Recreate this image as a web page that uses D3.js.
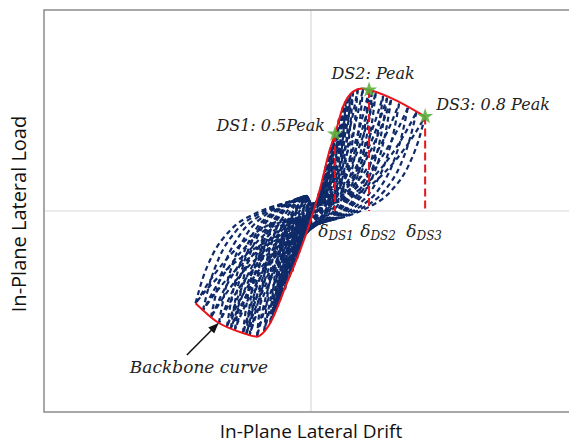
<!DOCTYPE html>
<html>
<head>
<meta charset="utf-8">
<script src="https://cdn.jsdelivr.net/npm/d3@7"></script>
<style>
  body { margin: 0; background: #fff; }
  .serif { font-family: "DejaVu Serif", serif; font-style: italic; fill: #222; }
  .axis-title { font-family: "Open Sans", sans-serif; fill: #111; }
</style>
</head>
<body>
<svg id="chart"></svg>
<script>
// backbone (envelope) curve, drift in mm, load in kN
const backboneDrift = [-17.3, -14.1, -10.2, -8.1, -7.2, -6.1, -3.6, -1.6, 0.3, 1.3, 2.8, 3.6, 4.8, 6.3, 7.6, 8.7, 17.1];
const backboneLoad  = [-45.9, -55.1, -60.7, -62.5, -60.7, -55.7, -35.8, -19.4, -1.0, 10.4, 30.3, 38.3, 51.9, 59.4, 61.0, 60.2, 47.0];

// damage states
const dsLabels = ["DS1: 0.5Peak", "DS2: Peak", "DS3: 0.8 Peak"];
const dsSub = ["DS1", "DS2", "DS3"];
const dsDrift = [3.6, 8.7, 17.1];
const dsLoad = [38.3, 60.2, 47.0];

// peaks of each load cycle
const posPeakDrift = [0.5, 0.8, 1.2, 1.5, 1.9, 2.2, 2.6, 2.9, 3.3, 3.6, 4.2, 4.8, 5.2, 5.5, 5.9, 6.3, 7.0, 7.8, 8.7, 9.2, 9.7, 10.8, 11.4, 12.0, 13.2, 14.5, 15.8, 17.1];
const posPeakLoad  = [3.0, 5.0, 9.0, 12.0, 17.5, 22.0, 27.0, 31.0, 35.0, 38.3, 46.0, 51.9, 54.5, 56.0, 58.0, 59.4, 60.5, 61.0, 60.2, 59.5, 58.8, 57.2, 56.3, 55.3, 53.4, 51.3, 49.2, 47.0];
const negPeakDrift = [-0.4, -0.6, -0.9, -1.2, -1.5, -1.8, -2.1, -2.5, -2.8, -3.2, -3.9, -4.6, -5.0, -5.3, -5.7, -6.1, -7.0, -8.1, -9.2, -9.7, -10.2, -11.4, -12.0, -12.6, -13.8, -15.0, -16.2, -17.3];
const negPeakLoad  = [-2.0, -3.0, -7.0, -13.0, -17.0, -21.0, -24.0, -27.0, -30.0, -32.5, -39.0, -44.0, -47.0, -49.3, -52.5, -55.7, -59.8, -62.5, -62.0, -61.4, -60.7, -59.0, -58.3, -57.5, -55.8, -53.0, -49.5, -45.9];

// branch shapes as fractions of the cycle peak (drift, load)
const unloadShape = [[1, 1], [0.94, 0.74], [0.85, 0.47], [0.70, 0.21], [0.47, 0.02], [0.24, -0.08], [0.08, -0.12]];
const reloadShape = [[0, 0.06], [0.3, 0.12], [0.55, 0.3], [0.75, 0.55], [0.9, 0.8], [1, 1]];

// annotation for the backbone label (arrow tail, data units)
const arrowTail = [-18.6, -71.6];
const arrowHeadAt = 1; // index into backbone

const width = 569, height = 445;
const svg = d3.select("#chart").attr("width", width).attr("height", height);

const x = d3.scaleLinear().domain([-40, 40]).range([44, 578]);
const y = d3.scaleLinear().domain([-100, 100]).range([412, 10]);

// frame and zero lines
svg.append("line").attr("x1", x(0)).attr("x2", x(0)).attr("y1", y(100)).attr("y2", y(-100))
  .attr("stroke", "#d9d9d9").attr("stroke-width", 1.2);
svg.append("line").attr("x1", x(-40)).attr("x2", x(40)).attr("y1", y(0)).attr("y2", y(0))
  .attr("stroke", "#d9d9d9").attr("stroke-width", 1.2);
svg.append("rect").attr("x", x(-40)).attr("y", y(100))
  .attr("width", x(40) - x(-40)).attr("height", y(-100) - y(100))
  .attr("fill", "none").attr("stroke", "#8c8c8c").attr("stroke-width", 1.5);

// hysteresis loops
const line = d3.line().x(d => x(d[0])).y(d => y(d[1])).curve(d3.curveMonotoneX);
const scaleShape = (shape, px, py) => shape.map(s => [s[0] * px, s[1] * py]);

const branches = [];
posPeakDrift.forEach((xp, i) => {
  const yp = posPeakLoad[i], xn = negPeakDrift[i], yn = negPeakLoad[i];
  // negative peak -> pinch -> positive peak
  branches.push(scaleShape(unloadShape, xn, yn).concat(scaleShape(reloadShape, xp, yp)));
  // positive peak -> pinch -> negative peak
  branches.push(scaleShape(unloadShape, xp, yp).concat(scaleShape(reloadShape, xn, yn).reverse()));
});
svg.append("g").selectAll("path").data(branches).join("path")
  .attr("d", line)
  .attr("fill", "none")
  .attr("stroke", "#0f2a68")
  .attr("stroke-width", 2.2)
  .attr("stroke-dasharray", "5,3.5");

// backbone
const backbone = backboneDrift.map((d, i) => [d, backboneLoad[i]]);
svg.append("path").datum(backbone)
  .attr("d", line)
  .attr("fill", "none")
  .attr("stroke", "#e8151c")
  .attr("stroke-width", 2);

// damage state drops
svg.append("g").selectAll("line").data(dsDrift).join("line")
  .attr("x1", d => x(d)).attr("x2", d => x(d))
  .attr("y1", (d, i) => y(dsLoad[i])).attr("y2", y(0))
  .attr("stroke", "#e8151c").attr("stroke-width", 2)
  .attr("stroke-dasharray", "8,4");

// stars
svg.append("g").selectAll("path").data(dsDrift).join("path")
  .attr("d", d3.symbol(d3.symbolStar).size(80))
  .attr("transform", (d, i) => `translate(${x(d)},${y(dsLoad[i])})`)
  .attr("fill", "#5aae3c").attr("fill-opacity", 0.9);

// DS labels
const labelOffsets = [[-10, -3, "end"], [4, -11, "middle"], [11, -7, "start"]];
svg.append("g").selectAll("text").data(dsLabels).join("text")
  .attr("class", "serif")
  .attr("font-size", 16)
  .attr("x", (d, i) => x(dsDrift[i]) + labelOffsets[i][0])
  .attr("y", (d, i) => y(dsLoad[i]) + labelOffsets[i][1])
  .attr("text-anchor", (d, i) => labelOffsets[i][2])
  .text(d => d);

// delta labels
const deltaShift = [1, 9, -1];
const dl = svg.append("g").selectAll("text").data(dsSub).join("text")
  .attr("class", "serif")
  .attr("font-size", 17)
  .attr("x", (d, i) => x(dsDrift[i]) + deltaShift[i])
  .attr("y", y(0) + 26)
  .attr("text-anchor", "middle");
dl.append("tspan").text("δ");
dl.append("tspan").attr("font-size", 12).attr("dy", 3).text(d => d);

// backbone label and arrow
svg.append("defs").append("marker")
  .attr("id", "arrow").attr("viewBox", "0 0 10 10").attr("refX", 9).attr("refY", 5)
  .attr("markerWidth", 7).attr("markerHeight", 7).attr("orient", "auto")
  .append("path").attr("d", "M0,1 L10,5 L0,9 Z").attr("fill", "#111");
svg.append("line")
  .attr("x1", x(arrowTail[0])).attr("y1", y(arrowTail[1]))
  .attr("x2", x(backboneDrift[arrowHeadAt]) + 1).attr("y2", y(backboneLoad[arrowHeadAt]) + 2)
  .attr("stroke", "#111").attr("stroke-width", 1.5)
  .attr("marker-end", "url(#arrow)");
svg.append("text").attr("class", "serif")
  .attr("font-size", 17)
  .attr("x", x(arrowTail[0]) - 57).attr("y", y(arrowTail[1]) + 18)
  .text("Backbone curve");

// axis titles
svg.append("text").attr("class", "axis-title")
  .attr("font-size", 19)
  .attr("x", x(0)).attr("y", 438)
  .attr("text-anchor", "middle")
  .text("In-Plane Lateral Drift");
svg.append("text").attr("class", "axis-title")
  .attr("font-size", 20)
  .attr("transform", `translate(26,${y(0) + 3}) rotate(-90)`)
  .attr("text-anchor", "middle")
  .text("In-Plane Lateral Load");
</script>
</body>
</html>
